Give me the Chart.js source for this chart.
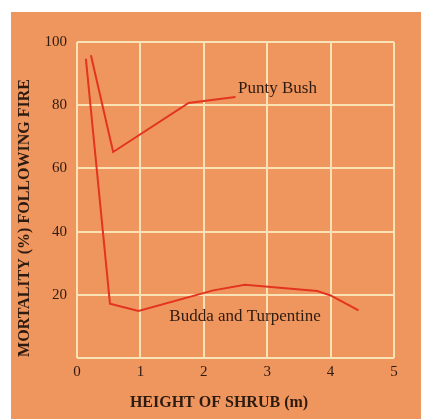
<!DOCTYPE html>
<html>
<head>
<meta charset="utf-8">
<script src="https://cdn.jsdelivr.net/npm/chart.js@4"></script>
<style>
  html, body { margin: 0; padding: 0; background: #ffffff; }
  #wrap { width: 421px; height: 419px; }
</style>
</head>
<body>
<div id="wrap"><canvas id="c" width="421" height="419"></canvas></div>
<script>
// ---- data ----
const puntyX = [0.22, 0.57, 1.76, 2.0, 2.5];
const puntyY = [95.8, 65.2, 80.7, 81.3, 82.6];
const buddaX = [0.14, 0.52, 0.97, 2.15, 2.65, 3.79, 4.0, 4.44];
const buddaY = [94.7, 17.2, 14.9, 21.4, 23.2, 21.2, 19.8, 15.1];
const seriesNames = ["Punty Bush", "Budda and Turpentine"];
const labelAnchorX = [2.54, 2.65];
const labelAnchorY = [85.3, 13.0];
const xTitle = "HEIGHT OF SHRUB (m)";
const yTitle = "MORTALITY (%) FOLLOWING FIRE";
const xTicks = [0, 1, 2, 3, 4, 5];
const yTicks = [0, 20, 40, 60, 80, 100];
const yTickLabels = ["", "20", "40", "60", "80", "100"];

const ORANGE = "#EF955E";
const GRID = "#F9E2B6";
const RED = "#E2341F";
const TEXT = "#2e1b10";

const toPts = (xs, ys) => xs.map((x, i) => ({x: x, y: ys[i]}));

const decor = {
  id: "decor",
  beforeDraw(chart) {
    const ctx = chart.ctx;
    ctx.save();
    ctx.fillStyle = "#ffffff";
    ctx.fillRect(0, 0, chart.width, chart.height);
    ctx.fillStyle = ORANGE;
    ctx.fillRect(11, 12, chart.width - 11, chart.height - 12);
    ctx.restore();
  },
  afterDraw(chart) {
    const ctx = chart.ctx;
    const xs = chart.scales.x, ys = chart.scales.y;
    ctx.save();
    ctx.fillStyle = TEXT;
    // series labels
    ctx.font = "17px 'Liberation Serif', serif";
    ctx.textBaseline = "middle";
    ctx.textAlign = "left";
    ctx.fillText(seriesNames[0], xs.getPixelForValue(labelAnchorX[0]), ys.getPixelForValue(labelAnchorY[0]));
    ctx.textAlign = "center";
    ctx.fillText(seriesNames[1], xs.getPixelForValue(labelAnchorX[1]), ys.getPixelForValue(labelAnchorY[1]));
    // axis titles
    ctx.font = "bold 16px 'Liberation Serif', serif";
    ctx.textAlign = "center";
    ctx.fillText(xTitle, 219, 403);
    ctx.translate(25, 218);
    ctx.rotate(-Math.PI / 2);
    ctx.fillText(yTitle, 0, 0);
    ctx.restore();
  }
};

new Chart(document.getElementById("c"), {
  type: "scatter",
  data: {
    datasets: [
      { label: seriesNames[0], data: toPts(puntyX, puntyY), showLine: true,
        borderColor: RED, borderWidth: 2, pointRadius: 0, tension: 0, fill: false },
      { label: seriesNames[1], data: toPts(buddaX, buddaY), showLine: true,
        borderColor: RED, borderWidth: 2, pointRadius: 0, tension: 0, fill: false }
    ]
  },
  options: {
    responsive: false,
    animation: false,
    devicePixelRatio: 1,
    layout: { padding: { left: 0, top: 42, right: 27, bottom: 0 } },
    plugins: { legend: { display: false }, tooltip: { enabled: false } },
    scales: {
      x: {
        type: "linear", min: 0, max: 5,
        afterFit(s) { s.height = 61; },
        afterBuildTicks(s) { s.ticks = xTicks.map(v => ({value: v})); },
        grid: { color: GRID, lineWidth: 2, drawTicks: false },
        border: { display: false },
        ticks: { color: TEXT, padding: 5, font: { family: "'Liberation Serif', serif", size: 15 } }
      },
      y: {
        type: "linear", min: 0, max: 100,
        afterFit(s) { s.width = 77; },
        afterBuildTicks(s) { s.ticks = yTicks.map(v => ({value: v})); },
        grid: { color: GRID, lineWidth: 2, drawTicks: false },
        border: { display: false },
        ticks: { color: TEXT, padding: 10, font: { family: "'Liberation Serif', serif", size: 15 },
                 callback(v) { const i = yTicks.indexOf(v); return i >= 0 ? yTickLabels[i] : ""; } }
      }
    }
  },
  plugins: [decor]
});
</script>
</body>
</html>
